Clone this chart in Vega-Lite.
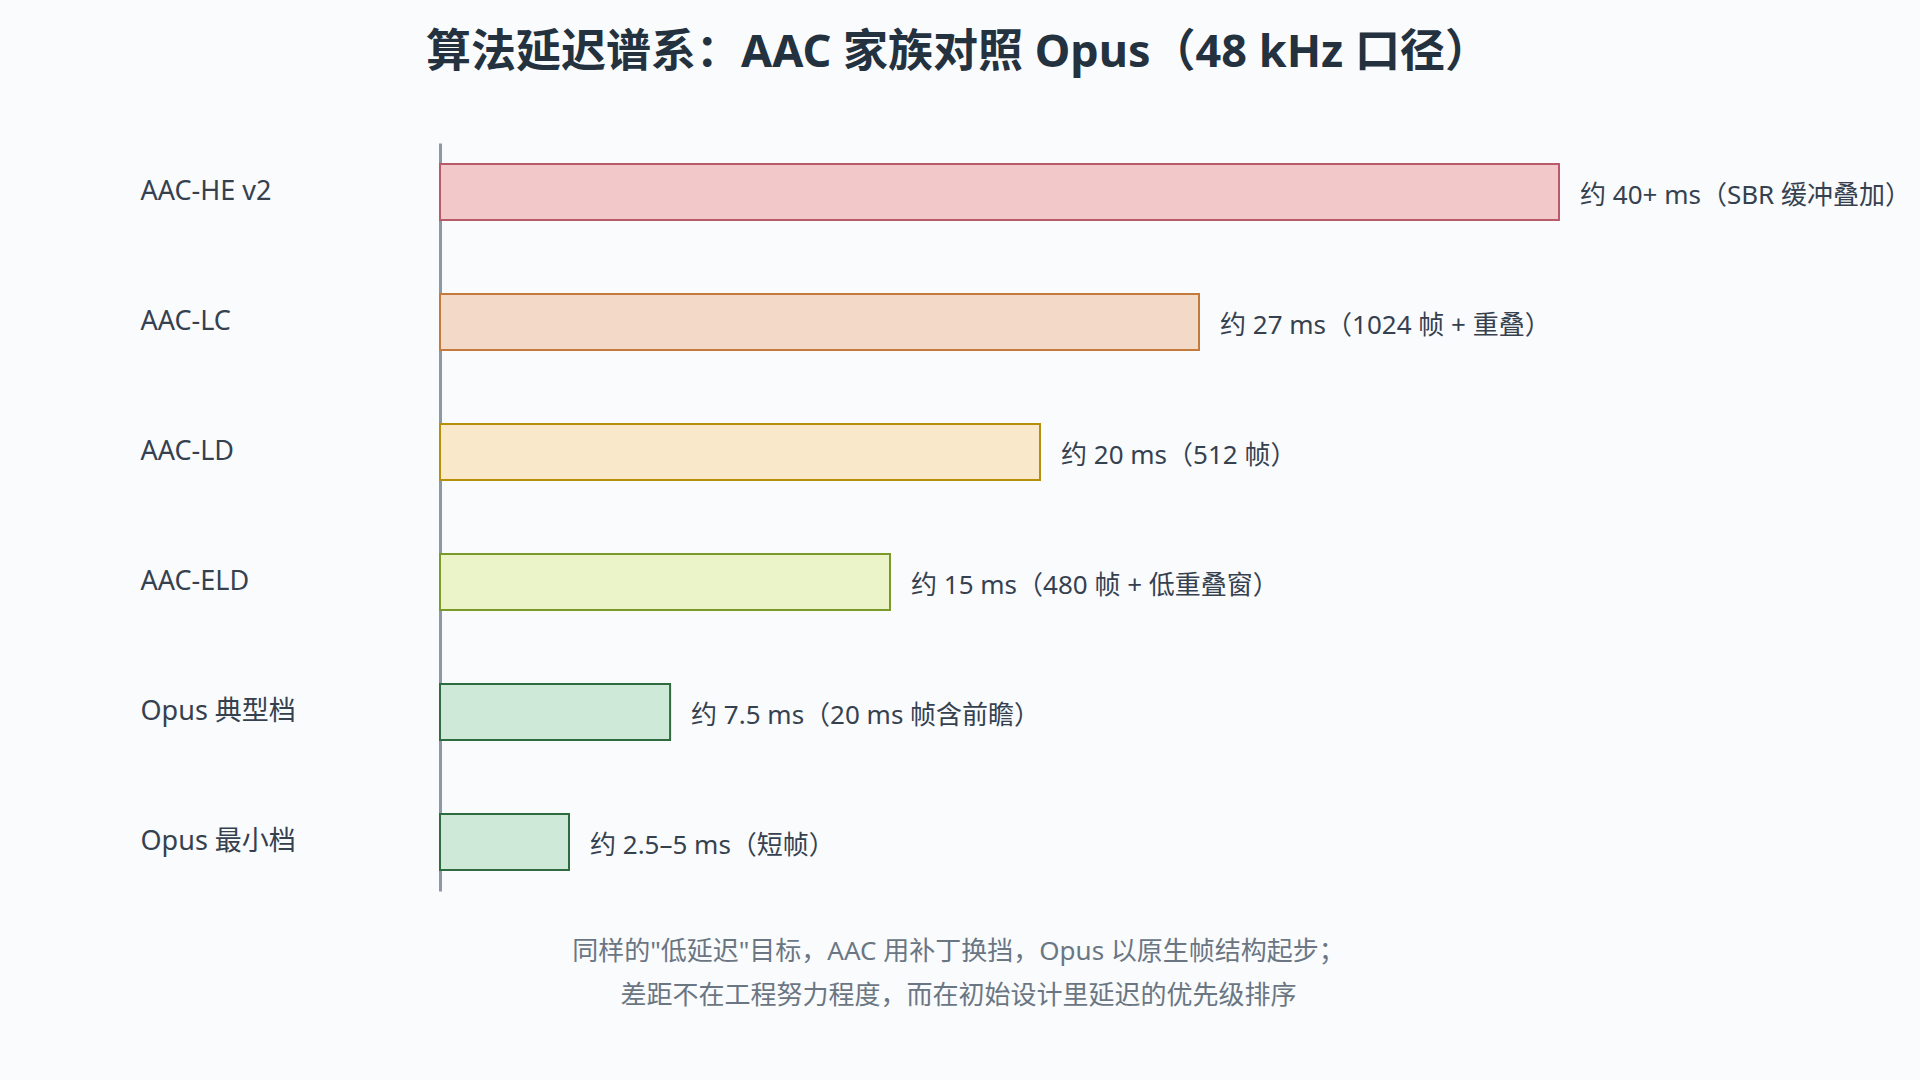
{
  "$schema": "https://vega.github.io/schema/vega-lite/v6.json",
  "width": 1200,
  "height": 748,
  "autosize": {"type": "none"},
  "padding": {"left": 440, "top": 143, "right": 280, "bottom": 189},
  "background": "#f9fbfd",
  "config": {
    "view": {"stroke": null},
    "font": "Noto Sans, Noto Sans CJK SC"
  },
  "title": {
    "text": "算法延迟谱系：AAC 家族对照 Opus（48 kHz 口径）",
    "font": "Noto Sans, Noto Sans CJK SC",
    "fontSize": 45,
    "fontWeight": "bold",
    "color": "#243240",
    "anchor": "middle",
    "frame": "group",
    "dx": -82,
    "offset": 67
  },
  "data": {
    "values": [
      {"codec": "AAC-HE v2", "ms": 37.3, "label": "约 40+ ms（SBR 缓冲叠加）"},
      {"codec": "AAC-LC", "ms": 25.3, "label": "约 27 ms（1024 帧 + 重叠）"},
      {"codec": "AAC-LD", "ms": 20, "label": "约 20 ms（512 帧）"},
      {"codec": "AAC-ELD", "ms": 15, "label": "约 15 ms（480 帧 + 低重叠窗）"},
      {"codec": "Opus 典型档", "ms": 7.67, "label": "约 7.5 ms（20 ms 帧含前瞻）"},
      {"codec": "Opus 最小档", "ms": 4.3, "label": "约 2.5–5 ms（短帧）"}
    ]
  },
  "encoding": {
    "y": {
      "field": "codec",
      "type": "nominal",
      "sort": null,
      "scale": {"paddingInner": 0.5692, "paddingOuter": 0.1615},
      "axis": {
        "title": null,
        "domain": true,
        "domainColor": "#8c98a5",
        "domainWidth": 3,
        "ticks": false,
        "tickSize": 0,
        "grid": false,
        "labelAlign": "left",
        "labelPadding": 300,
        "labelFontSize": 27,
        "labelColor": "#36414f",
        "labelFont": "Noto Sans, Noto Sans CJK SC"
      }
    },
    "x": {
      "field": "ms",
      "type": "quantitative",
      "scale": {"domain": [0, 40], "nice": false, "zero": true},
      "axis": {
        "labels": false,
        "ticks": false,
        "domain": false,
        "grid": false,
        "title": ["同样的\"低延迟\"目标，AAC 用补丁换挡，Opus 以原生帧结构起步；", "差距不在工程努力程度，而在初始设计里延迟的优先级排序"],
        "titleFont": "Noto Sans, Noto Sans CJK SC",
        "titleFontSize": 26,
        "titleFontWeight": "normal",
        "titleColor": "#6b7683",
        "titleX": 518,
        "titleY": 47,
        "titleAlign": "center",
        "titleBaseline": "top",
        "titleLineHeight": 44
      }
    }
  },
  "layer": [
    {
      "mark": {"type": "bar", "strokeWidth": 2},
      "encoding": {
        "fill": {
          "field": "codec",
          "type": "nominal",
          "legend": null,
          "scale": {
            "domain": ["AAC-HE v2", "AAC-LC", "AAC-LD", "AAC-ELD", "Opus 典型档", "Opus 最小档"],
            "range": ["#f2c8c9", "#f3d9c8", "#f9e8c9", "#ebf3c8", "#cfe9d8", "#cfe9d8"]
          }
        },
        "stroke": {
          "field": "codec",
          "type": "nominal",
          "legend": null,
          "scale": {
            "domain": ["AAC-HE v2", "AAC-LC", "AAC-LD", "AAC-ELD", "Opus 典型档", "Opus 最小档"],
            "range": ["#b85a68", "#c47a3a", "#b88f0a", "#7a9a2a", "#2e6b3e", "#2e6b3e"]
          }
        }
      }
    },
    {
      "mark": {"type": "text", "align": "left", "baseline": "middle", "dx": 21, "dy": 4, "fontSize": 26, "color": "#36414f", "font": "Noto Sans, Noto Sans CJK SC"},
      "encoding": {
        "text": {"field": "label", "type": "nominal"}
      }
    }
  ]
}
